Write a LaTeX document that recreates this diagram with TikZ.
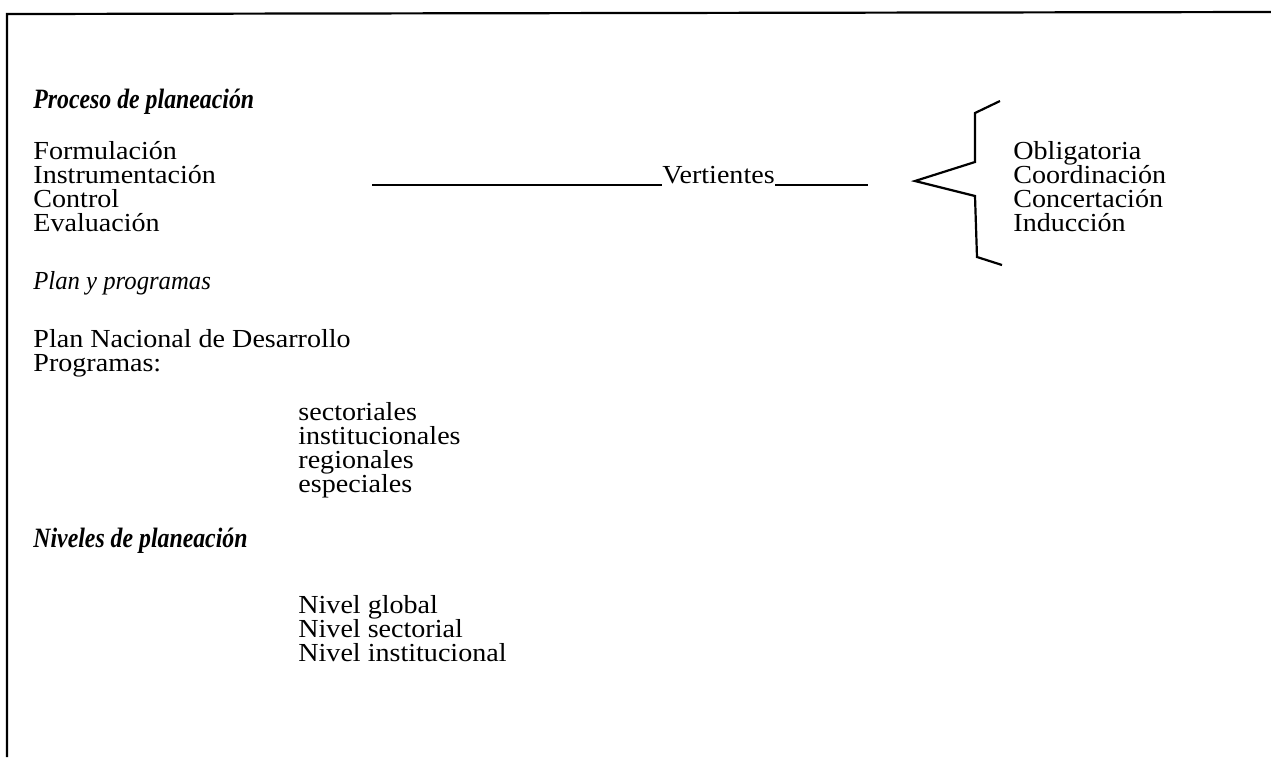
\documentclass[tikz,border=0pt]{standalone}
\usepackage{fontspec}
\setmainfont[FakeStretch=1.08]{Liberation Serif}
\newfontfamily\titfont[FakeStretch=0.85]{Liberation Serif}
\newfontfamily\subfont[FakeStretch=0.95]{Liberation Serif}
\begin{document}
\begin{tikzpicture}[x=0.5pt,y=-0.5pt,
		every node/.style={anchor=base west,inner sep=0pt,font=\fontsize{13}{13}\selectfont},
		titulo/.style={font=\titfont\fontsize{14}{14}\selectfont\bfseries\itshape},
		subtitulo/.style={font=\subfont\fontsize{13}{13}\selectfont\itshape}]
	\useasboundingbox (0,0) rectangle (1271,757);
	\draw[line width=1.1pt] (1271,12) -- (7,14) -- (7,757);
	
	\node[titulo] (proceso) at (33,108) {Proceso de planeación};
	
	\node (form) at (33,159) {Formulación};
	\node (inst) at (33,183) {Instrumentación};
	\node (ctrl) at (33,207) {Control};
	\node (eval) at (33,231) {Evaluación};
	
	\node (vert) at (662,183) {Vertientes};
	\coordinate (ini) at (372,185);
	\coordinate (fin) at (868,185);
	\draw[line width=0.9pt] (ini) -- (ini -| vert.west);
	\draw[line width=0.9pt] (fin -| vert.east) -- (fin);
	
	\draw[line width=1.1pt] (1000,101) -- (975,113) -- (975,162) -- (915,181) -- (975,196) -- (977,257) -- (1002,265);
	
	\node (obli) at (1013,159) {Obligatoria};
	\node (coor) at (1013,183) {Coordinación};
	\node (conc) at (1013,207) {Concertación};
	\node (indu) at (1013,231) {Inducción};
	
	\node[subtitulo] (plan) at (33,289) {Plan y programas};
	
	\node (pnd) at (33,347) {Plan Nacional de Desarrollo};
	\node (prog) at (33,371) {Programas:};
	\node (sect) at (298,420) {sectoriales};
	\node (inst2) at (298,444) {institucionales};
	\node (regi) at (298,468) {regionales};
	\node (espe) at (298,492) {especiales};
	
	\node[titulo] (nive) at (33,547) {Niveles de planeación};
	
	\node (glob) at (298,613) {Nivel global};
	\node (nsec) at (298,637) {Nivel sectorial};
	\node (ninst) at (298,661) {Nivel institucional};
\end{tikzpicture}
\end{document}
